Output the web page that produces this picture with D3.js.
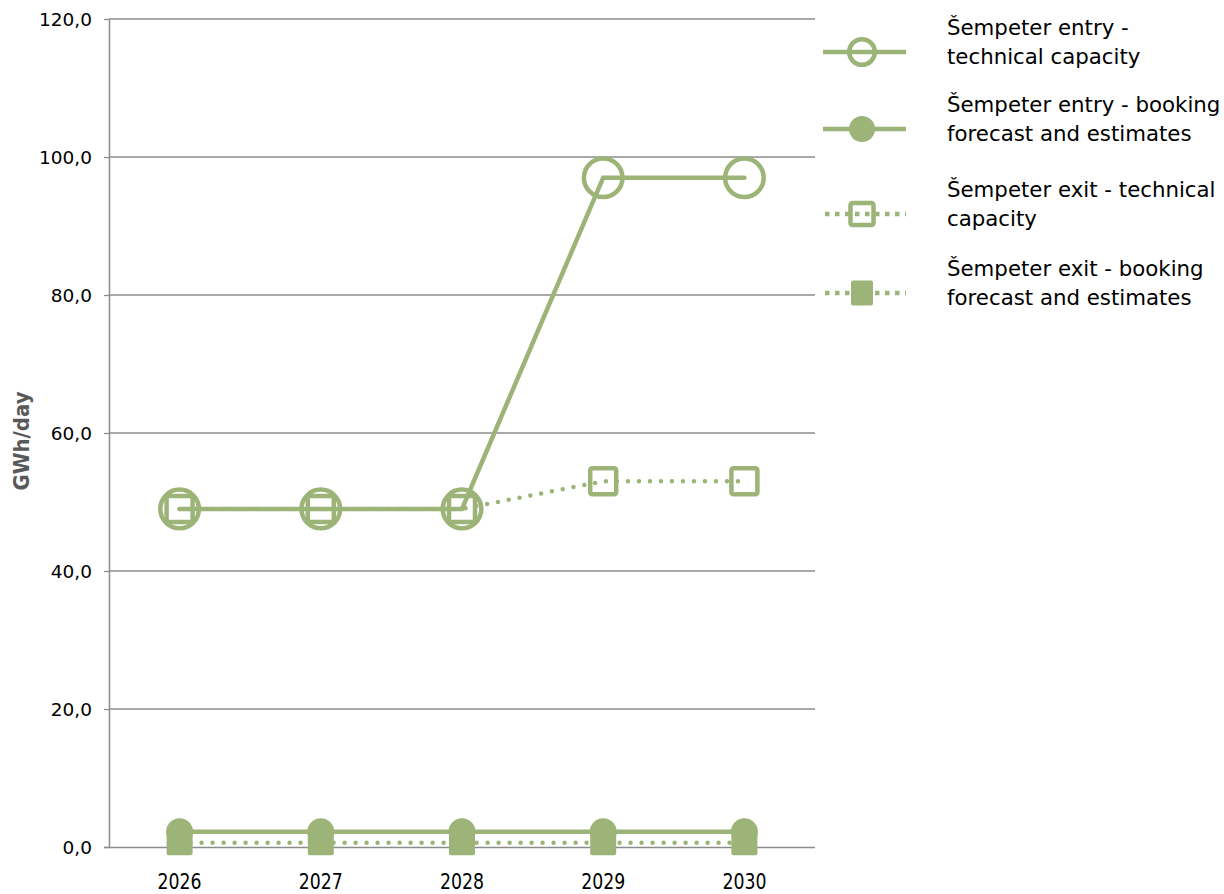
<!DOCTYPE html>
<html>
<head>
<meta charset="utf-8">
<script src="https://cdn.jsdelivr.net/npm/d3@7"></script>
<style>
  html, body { margin: 0; padding: 0; background: #fff; }
  svg { display: block; }
</style>
</head>
<body>
<svg id="chart" width="1224" height="894"></svg>
<script>
const categories = ["2026", "2027", "2028", "2029", "2030"];
const entryTechnical = [49.0, 49.0, 49.0, 97.0, 97.0];
const entryBooking = [2.2, 2.2, 2.2, 2.2, 2.2];
const exitTechnical = [49.0, 49.0, 49.0, 53.0, 53.0];
const exitBooking = [0.6, 0.6, 0.6, 0.6, 0.6];
const yTicks = [0, 20, 40, 60, 80, 100, 120];
const seriesNames = [
  ["Šempeter entry -", "technical capacity"],
  ["Šempeter entry - booking", "forecast and estimates"],
  ["Šempeter exit - technical", "capacity"],
  ["Šempeter exit - booking", "forecast and estimates"]
];

const color = "#9cb477";
const narrow = "'Liberation Sans Narrow', 'DejaVu Sans Condensed', sans-serif";
const svg = d3.select("#chart");
const margin = { left: 109, right: 815, top: 19, bottom: 847 };

const x = d3.scaleBand().domain(categories).range([margin.left, margin.right]);
const xc = d => x(d) + x.bandwidth() / 2;
const y = d3.scaleLinear().domain([0, 120]).range([margin.bottom, margin.top]);

// gridlines
svg.append("g").selectAll("line").data(yTicks.filter(t => t > 0)).join("line")
  .attr("x1", margin.left).attr("x2", margin.right)
  .attr("y1", d => y(d)).attr("y2", d => y(d))
  .attr("stroke", "#8c8c8c").attr("stroke-width", 1.3);

// y axis
const yAxis = svg.append("g").attr("transform", `translate(${margin.left},0)`)
  .call(d3.axisLeft(y).tickValues(yTicks).tickSize(5).tickSizeOuter(0)
    .tickFormat(d => d3.format(".1f")(d).replace(".", ",")));
yAxis.select(".domain").attr("stroke", "#8c8c8c").attr("stroke-width", 1.5);
yAxis.selectAll(".tick line").attr("stroke", "#8c8c8c").attr("stroke-width", 1.3);
yAxis.selectAll(".tick text").attr("x", -17).attr("dy", "0.36em")
  .style("font-family", "'DejaVu Sans', sans-serif").style("font-size", "18.5px").attr("fill", "#000");

// x axis
const xAxis = svg.append("g").attr("transform", `translate(0,${margin.bottom})`)
  .call(d3.axisBottom(x).tickSize(0).tickSizeOuter(0));
xAxis.select(".domain").attr("d", `M${margin.left - 5},0.5H${margin.right}`)
  .attr("stroke", "#8c8c8c").attr("stroke-width", 1.5);
xAxis.selectAll(".tick text").attr("y", 42).attr("dy", 0)
  .style("font-family", narrow)
  .style("font-size", "22px").attr("fill", "#000")
  .attr("textLength", 44).attr("lengthAdjust", "spacingAndGlyphs");

// y title
svg.append("text")
  .attr("transform", `translate(29,441) rotate(-90)`)
  .attr("text-anchor", "middle")
  .style("font-family", narrow)
  .style("font-size", "22px").style("font-weight", "bold")
  .attr("fill", "#595959")
  .text("GWh/day");

const line = d3.line().x((d, i) => xc(categories[i])).y(d => y(d));

function drawLine(vals, dotted) {
  svg.append("path").datum(vals)
    .attr("d", line).attr("fill", "none").attr("stroke", color)
    .attr("stroke-width", 4.5)
    .attr("stroke-linecap", "round")
    .attr("stroke-dasharray", dotted ? "0,11" : null);
}

// series 1: entry technical (open circles)
drawLine(entryTechnical, false);
svg.append("g").selectAll("circle").data(entryTechnical).join("circle")
  .attr("cx", (d, i) => xc(categories[i])).attr("cy", d => y(d)).attr("r", 19.3)
  .attr("fill", "none").attr("stroke", color).attr("stroke-width", 4.5);

// series 2: entry booking (filled circles)
drawLine(entryBooking, false);
svg.append("g").selectAll("circle").data(entryBooking).join("circle")
  .attr("cx", (d, i) => xc(categories[i])).attr("cy", d => y(d)).attr("r", 13.5)
  .attr("fill", color);

// series 3: exit technical (open squares)
drawLine(exitTechnical, true);
svg.append("g").selectAll("rect").data(exitTechnical).join("rect")
  .attr("x", (d, i) => xc(categories[i]) - 13).attr("y", d => y(d) - 13)
  .attr("width", 26).attr("height", 26).attr("rx", 2)
  .attr("fill", "none").attr("stroke", color).attr("stroke-width", 4.5);

// series 4: exit booking (filled squares)
drawLine(exitBooking, true);
svg.append("g").selectAll("rect").data(exitBooking).join("rect")
  .attr("x", (d, i) => xc(categories[i]) - 13).attr("y", d => y(d) - 12)
  .attr("width", 26).attr("height", 24.5).attr("rx", 2)
  .attr("fill", color);

// legend
const legendRows = [52, 129, 214, 293];
const lg = svg.append("g");
legendRows.forEach((ry, i) => {
  const dotted = i >= 2;
  lg.append("line").attr("x1", dotted ? 825 : 823).attr("x2", 906)
    .attr("y1", ry).attr("y2", ry).attr("stroke", color).attr("stroke-width", 4.5)
    .attr("stroke-linecap", "butt")
    .attr("stroke-dasharray", dotted ? "4.5,5.5" : null);
  const cx = 862;
  if (i === 0) {
    lg.append("circle").attr("cx", cx).attr("cy", ry).attr("r", 12.8)
      .attr("fill", "#fff").attr("stroke", color).attr("stroke-width", 4.5);
    lg.append("line").attr("x1", cx - 12).attr("x2", cx + 12).attr("y1", ry).attr("y2", ry)
      .attr("stroke", color).attr("stroke-width", 4.5);
  } else if (i === 1) {
    lg.append("circle").attr("cx", cx).attr("cy", ry).attr("r", 13).attr("fill", color);
  } else if (i === 2) {
    lg.append("rect").attr("x", cx - 11.5).attr("y", ry - 11).attr("width", 23).attr("height", 22).attr("rx", 2)
      .attr("fill", "none").attr("stroke", color).attr("stroke-width", 4.5);
  } else {
    lg.append("rect").attr("x", cx - 11).attr("y", ry - 12.5).attr("width", 22).attr("height", 25).attr("rx", 2)
      .attr("fill", color);
  }
  const t = lg.append("text").attr("x", 947).attr("y", ry - 17)
    .style("font-family", "'DejaVu Sans', sans-serif").style("font-size", "21.3px").attr("fill", "#000");
  seriesNames[i].forEach((s, j) => {
    t.append("tspan").attr("x", 947).attr("dy", j === 0 ? 0 : 28.5).text(s);
  });
});
</script>
</body>
</html>
